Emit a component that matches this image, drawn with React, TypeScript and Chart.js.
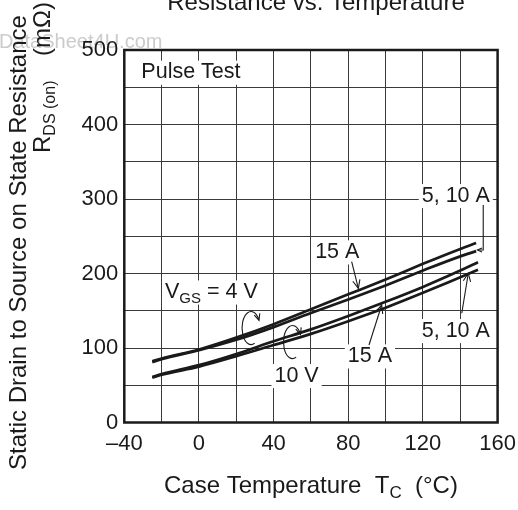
import React, { useEffect, useRef } from "react";
import { Chart, registerables } from "chart.js";

Chart.register(...registerables);

// ---- data ----
const temps4V = [-25, -20, 0, 20, 40, 60, 80, 100, 120, 140, 148.5];
const rds4V15A = [82, 86, 98, 114, 132, 152, 172, 192, 213, 233, 241];
const rds4V5to10A = [81, 85, 97, 111, 128, 147, 165, 184, 204, 223, 230];
const temps10V = [-25, -20, 0, 20, 40, 60, 80, 100, 120, 140, 149.5];
const rds10V15A = [61, 65, 77, 92, 109, 125, 143, 162, 182, 204, 215];
const rds10V5to10A = [60, 64, 75, 89, 104, 119, 136, 154, 174, 195, 205];

const xLabeledTicks = [-40, 0, 40, 80, 120, 160];
const yLabeledTicks = [0, 100, 200, 300, 400, 500];

const titleText = "Resistance vs. Temperature";
const yTitleLine1 = "Static Drain to Source on State Resistance";
const watermark = "DataSheet4U.com";

// annotation labels (data coordinates)
type Part = { text: string; sub?: boolean };
const annotationLabels: { parts: Part[]; t: number; r: number; align: "left" | "center" }[] = [
  { parts: [{ text: "Pulse Test" }], t: -4.3, r: 462, align: "center" },
  { parts: [{ text: "V" }, { text: "GS", sub: true }, { text: " = 4 V" }], t: -18.2, r: 167, align: "left" },
  { parts: [{ text: "15 A" }], t: 74.1, r: 220.8, align: "center" },
  { parts: [{ text: "15 A" }], t: 91.6, r: 81.2, align: "center" },
  { parts: [{ text: "5, 10 A" }], t: 137.6, r: 296.4, align: "center" },
  { parts: [{ text: "5, 10 A" }], t: 137.6, r: 115.2, align: "center" },
  { parts: [{ text: "10 V" }], t: 52.3, r: 54.8, align: "center" },
];

const arrowPaths: number[][][] = [
  [[81.8, 215.8], [85.4, 180.1]],
  [[91.1, 104], [97.9, 157.7]],
  [[140.8, 146.6], [144.3, 200.3]],
  [[152.3, 292], [152.3, 231.5], [149.2, 231.5]],
];

const loopCenters: number[][] = [
  [27.9, 126.8],
  [50.1, 108],
];

const FONT = "'Liberation Sans', Arial, Helvetica, sans-serif";
const INK = "#1a1a1a";

function drawParts(ctx: CanvasRenderingContext2D, parts: Part[], x: number, y: number, size: number, subSize: number, subDy: number, align: "left" | "center", bg: boolean) {
  let w = 0;
  const widths = parts.map((p) => {
    ctx.font = `${p.sub ? subSize : size}px ${FONT}`;
    const m = ctx.measureText(p.text).width;
    w += m;
    return m;
  });
  let cx = align === "center" ? x - w / 2 : x;
  if (bg) {
    ctx.fillStyle = "#ffffff";
    ctx.fillRect(cx - 3, y - size * 0.82, w + 6, size * 1.12);
  }
  ctx.fillStyle = INK;
  ctx.textBaseline = "alphabetic";
  ctx.textAlign = "left";
  parts.forEach((p, i) => {
    ctx.font = `${p.sub ? subSize : size}px ${FONT}`;
    ctx.fillText(p.text, cx, p.sub ? y + subDy : y);
    cx += widths[i];
  });
}

function arrowHead(ctx: CanvasRenderingContext2D, fx: number, fy: number, tx: number, ty: number, len: number) {
  const a = Math.atan2(ty - fy, tx - fx);
  const s = 0.42;
  ctx.beginPath();
  ctx.moveTo(tx - len * Math.cos(a - s), ty - len * Math.sin(a - s));
  ctx.lineTo(tx, ty);
  ctx.lineTo(tx - len * Math.cos(a + s), ty - len * Math.sin(a + s));
  ctx.stroke();
}

const decorPlugin = {
  id: "decor",
  beforeDraw(chart: any) {
    const ctx: CanvasRenderingContext2D = chart.ctx;
    ctx.save();
    ctx.fillStyle = "#ffffff";
    ctx.fillRect(0, 0, chart.width, chart.height);
    ctx.font = `20px ${FONT}`;
    ctx.fillStyle = "#cccccc";
    ctx.textAlign = "left";
    ctx.textBaseline = "alphabetic";
    ctx.fillText(watermark, -1, 48);
    ctx.restore();
  },
  afterDatasetsDraw(chart: any) {
    const ctx: CanvasRenderingContext2D = chart.ctx;
    const xs = chart.scales.x;
    const ys = chart.scales.y;
    const P = (t: number, r: number) => [xs.getPixelForValue(t), ys.getPixelForValue(r)];
    const area = chart.chartArea;
    ctx.save();

    // labels
    annotationLabels.forEach((l) => {
      const [x, y] = P(l.t, l.r);
      drawParts(ctx, l.parts, x, y, 21.5, 15, 5, l.align, true);
    });

    // arrows
    ctx.strokeStyle = INK;
    ctx.lineWidth = 1.1;
    arrowPaths.forEach((path) => {
      const pts = path.map(([t, r]) => P(t, r));
      ctx.beginPath();
      pts.forEach(([x, y], i) => (i === 0 ? ctx.moveTo(x, y) : ctx.lineTo(x, y)));
      ctx.stroke();
      const [fx, fy] = pts[pts.length - 2];
      const [tx, ty] = pts[pts.length - 1];
      arrowHead(ctx, fx, fy, tx, ty, pts.length > 2 ? 5 : 9);
    });

    // loops
    loopCenters.forEach(([t, r]) => {
      const [cx, cy] = P(t, r);
      const rx = 9;
      const ry = 16.5;
      const a0 = 1.15;
      const a1 = 5.75;
      ctx.beginPath();
      ctx.ellipse(cx, cy, rx, ry, 0, a0, a1, false);
      ctx.stroke();
      const ex = cx + rx * Math.cos(a1);
      const ey = cy + ry * Math.sin(a1);
      const dx = -rx * Math.sin(a1);
      const dy = ry * Math.cos(a1);
      arrowHead(ctx, ex - dx * 0.1, ey - dy * 0.1, ex + dx * 0.05, ey + dy * 0.05, 7);
    });

    // frame
    ctx.lineWidth = 2.5;
    ctx.strokeStyle = INK;
    ctx.strokeRect(area.left, area.top, area.right - area.left, area.bottom - area.top);

    // title (cut at top like the reference)
    ctx.fillStyle = INK;
    ctx.font = `24px ${FONT}`;
    ctx.textAlign = "center";
    ctx.textBaseline = "alphabetic";
    ctx.fillText(titleText, 316, 10);

    // x axis title
    drawParts(
      ctx,
      [{ text: "Case Temperature  T" }, { text: "C", sub: true }, { text: "  (°C)" }],
      (area.left + area.right) / 2,
      493,
      24,
      17,
      5,
      "center",
      false
    );

    // y axis title lines (rotated)
    ctx.save();
    ctx.translate(26, 470);
    ctx.rotate(-Math.PI / 2);
    ctx.font = `24px ${FONT}`;
    ctx.textAlign = "left";
    ctx.fillStyle = INK;
    ctx.fillText(yTitleLine1, 0, 0);
    ctx.restore();

    ctx.save();
    ctx.translate(50, 153);
    ctx.rotate(-Math.PI / 2);
    drawParts(ctx, [{ text: "R" }, { text: "DS (on)", sub: true }], 0, 0, 24, 16, 5, "left", false);
    ctx.restore();

    ctx.save();
    ctx.translate(50, 2);
    ctx.rotate(-Math.PI / 2);
    ctx.font = `24px ${FONT}`;
    ctx.textAlign = "right";
    ctx.fillStyle = INK;
    ctx.fillText("(mΩ)", 0, 0);
    ctx.restore();

    ctx.restore();
  },
};

export default function App() {
  const canvasRef = useRef<HTMLCanvasElement | null>(null);

  useEffect(() => {
    if (!canvasRef.current) return;
    const mk = (ts: number[], vs: number[]) => ts.map((t, i) => ({ x: t, y: vs[i] }));
    const lineStyle = {
      borderColor: INK,
      borderWidth: 2.7,
      pointRadius: 0,
      fill: false,
      cubicInterpolationMode: "monotone" as const,
    };
    const chart = new Chart(canvasRef.current, {
      type: "line",
      data: {
        datasets: [
          { label: "VGS=4V 15A", data: mk(temps4V, rds4V15A), ...lineStyle },
          { label: "VGS=4V 5,10A", data: mk(temps4V, rds4V5to10A), ...lineStyle },
          { label: "VGS=10V 15A", data: mk(temps10V, rds10V15A), ...lineStyle },
          { label: "VGS=10V 5,10A", data: mk(temps10V, rds10V5to10A), ...lineStyle },
        ],
      },
      options: {
        animation: false,
        responsive: true,
        maintainAspectRatio: false,
        devicePixelRatio: 1,
        layout: { padding: { left: 0, top: 50, right: 20.4, bottom: 0 } },
        plugins: {
          legend: { display: false },
          tooltip: { enabled: false },
          title: { display: false },
        },
        scales: {
          x: {
            type: "linear",
            min: -40,
            max: 160,
            afterFit: (s: any) => {
              s.height = 87.5;
              s.paddingLeft = 0;
              s.paddingRight = 0;
            },
            border: { display: false },
            grid: { color: "#3a3a3a", lineWidth: 1, drawTicks: false },
            ticks: {
              stepSize: 20,
              autoSkip: false,
              maxRotation: 0,
              padding: 8,
              color: INK,
              font: { family: FONT, size: 22 },
              callback: (v: any) => (xLabeledTicks.includes(Number(v)) ? (Number(v) < 0 ? "–" + Math.abs(Number(v)) : String(v)) : ""),
            },
          },
          y: {
            type: "linear",
            min: 0,
            max: 500,
            afterFit: (s: any) => {
              s.width = 124.3;
              s.paddingTop = 0;
              s.paddingBottom = 0;
            },
            border: { display: false },
            grid: { color: "#3a3a3a", lineWidth: 1, drawTicks: false },
            ticks: {
              stepSize: 50,
              autoSkip: false,
              padding: 6,
              color: INK,
              font: { family: FONT, size: 22 },
              callback: (v: any) => (yLabeledTicks.includes(Number(v)) ? String(v) : ""),
            },
          },
        },
      },
      plugins: [decorPlugin],
    });
    return () => chart.destroy();
  }, []);

  return (
    <div style={{ position: "absolute", left: 0, top: 0, width: 518, height: 510, background: "#fff" }}>
      <canvas ref={canvasRef} />
    </div>
  );
}
